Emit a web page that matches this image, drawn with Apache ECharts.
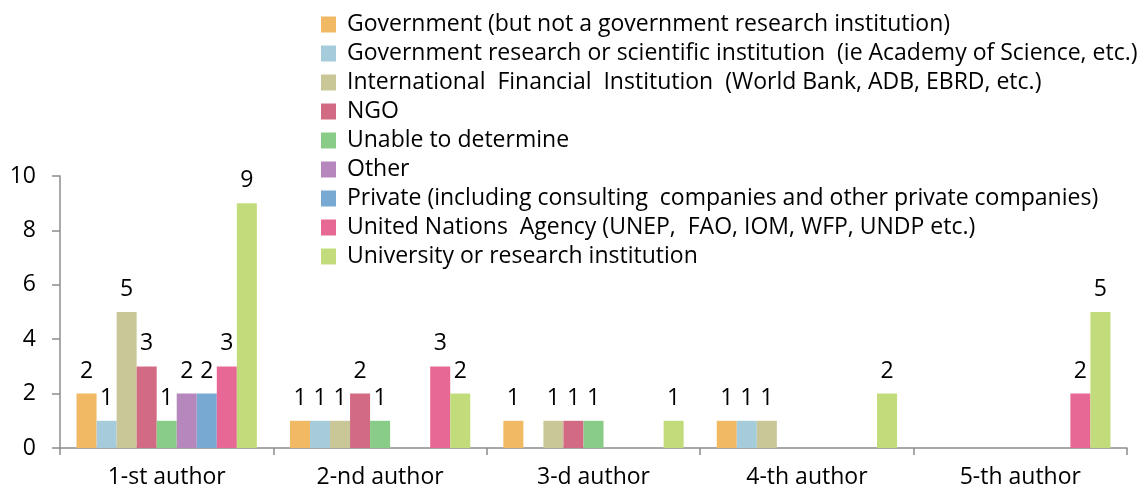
<!DOCTYPE html>
<html>
<head>
<meta charset="utf-8">
<script src="https://cdn.jsdelivr.net/npm/echarts@6/dist/echarts.min.js"></script>
<style>
  html, body { margin: 0; padding: 0; background: #fff; }
  #chart { width: 1142px; height: 490px; }
</style>
</head>
<body>
<div id="chart"></div>
<script>
// categories and series values (null = no bar)
var categories = ['1-st author', '2-nd author', '3-d author', '4-th author', '5-th author'];
var seriesNames = [
    'Government (but not a government research institution)',
    'Government research or scientific institution  (ie Academy of Science, etc.)',
    'International  Financial  Institution  (World Bank, ADB, EBRD, etc.)',
    'NGO',
    'Unable to determine',
    'Other',
    'Private (including consulting  companies and other private companies)',
    'United Nations  Agency (UNEP,  FAO, IOM, WFP, UNDP etc.)',
    'University or research institution'
];
var government     = [2, 1, 1, 1, null];
var govResearch    = [1, 1, null, 1, null];
var ifi            = [5, 1, 1, 1, null];
var ngo            = [3, 2, 1, null, null];
var unableToDeterm = [1, 1, 1, null, null];
var other          = [2, null, null, null, null];
var privateSector  = [2, null, null, null, null];
var unAgency       = [3, 3, null, null, 2];
var university     = [9, 2, 1, 2, 5];
var yTicks = [0, 2, 4, 6, 8, 10];

var seriesData = [government, govResearch, ifi, ngo, unableToDeterm, other, privateSector, unAgency, university];
var colors = ['#F1B964', '#A6CBDA', '#C9C797', '#D26A84', '#89CC87', '#B687BC', '#78A9D3', '#E76895', '#C3DC7B'];

var FONT = 'Open Sans';
var FS = 23;

var myChart = echarts.init(document.getElementById('chart'));

var series = seriesData.map(function (d, i) {
    return {
        name: seriesNames[i],
        type: 'bar',
        data: d,
        barGap: '0%',
        barCategoryGap: '15.5%',
        itemStyle: { color: colors[i] },
        label: {
            show: true,
            position: 'top',
            distance: 11,
            color: '#000',
            fontFamily: FONT,
            fontSize: FS
        }
    };
});

var option = {
    animation: false,
    color: colors,
    textStyle: { fontFamily: FONT },
    legend: {
        data: seriesNames,
        orient: 'vertical',
        left: 316,
        top: 8,
        itemWidth: 15,
        itemHeight: 16,
        itemGap: 6,
        icon: 'rect',
        textStyle: { fontFamily: FONT, fontSize: FS, color: '#000', lineHeight: 23, padding: [0, 0, 0, 6] }
    },
    grid: { left: 60, right: 15, top: 176, bottom: 42 },
    xAxis: {
        type: 'category',
        data: categories,
        axisLine: { lineStyle: { color: '#8C8C8C', width: 1.5 } },
        axisTick: { show: true, length: 7, lineStyle: { color: '#8C8C8C', width: 1.5 } },
        axisLabel: { color: '#000', fontFamily: FONT, fontSize: FS, margin: 18 }
    },
    yAxis: {
        type: 'value',
        min: yTicks[0],
        max: yTicks[yTicks.length - 1],
        interval: 2,
        splitLine: { show: false },
        axisLine: { show: true, lineStyle: { color: '#8C8C8C', width: 1.5 } },
        axisTick: { show: true, length: 8, lineStyle: { color: '#8C8C8C', width: 1.5 } },
        axisLabel: { color: '#000', fontFamily: FONT, fontSize: FS, margin: 24 }
    },
    series: series
};

myChart.setOption(option);
</script>
</body>
</html>
